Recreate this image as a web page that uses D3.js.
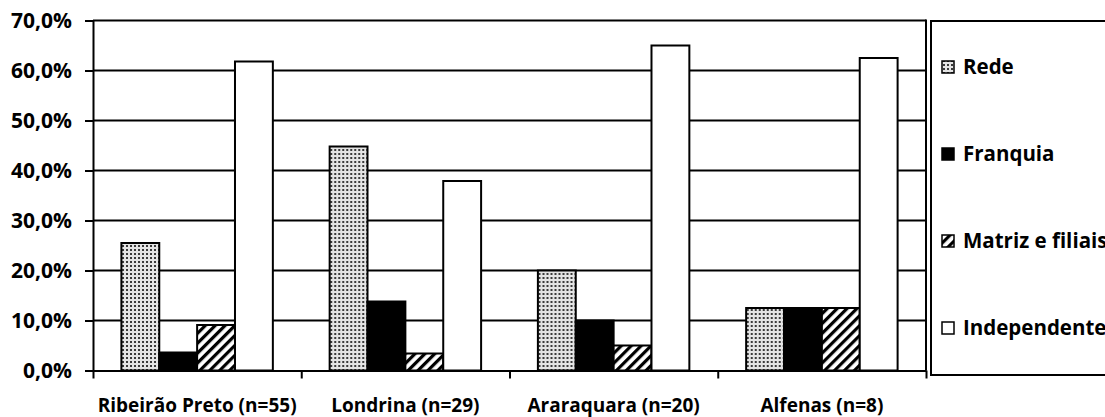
<!DOCTYPE html>
<html>
<head>
<meta charset="utf-8">
<script src="https://cdn.jsdelivr.net/npm/d3@7/dist/d3.min.js"></script>
<style>
  html, body { margin: 0; padding: 0; background: #fff; }
  svg { display: block; }
  text { font-family: "Open Sans", sans-serif; font-weight: bold; fill: #000; }
</style>
</head>
<body>
<svg id="chart" width="1105" height="417"></svg>
<script>
// Tipo de estabelecimento por cidade (% de respondentes)
const categories = ["Ribeirão Preto (n=55)", "Londrina (n=29)", "Araraquara (n=20)", "Alfenas (n=8)"];
const seriesNames = ["Rede", "Franquia", "Matriz e filiais", "Independente"];
const rede = [25.5, 44.8, 20.0, 12.5];
const franquia = [3.6, 13.8, 10.0, 12.5];
const matriz = [9.1, 3.4, 5.0, 12.5];
const independente = [61.8, 37.9, 65.0, 62.5];
const yTicks = [0, 10, 20, 30, 40, 50, 60, 70];

const seriesValues = [rede, franquia, matriz, independente];
const fills = ["url(#dots)", "#000", "url(#stripes)", "#fff"];

const svg = d3.select("#chart");
const plotLeft = 93, plotRight = 926, plotTop = 20.5, plotBottom = 370.5;

// patterns
const defs = svg.append("defs");
const dots = defs.append("pattern").attr("id", "dots")
  .attr("patternUnits", "userSpaceOnUse").attr("width", 4).attr("height", 4);
dots.append("rect").attr("width", 4).attr("height", 4).attr("fill", "#e4e4e4");
dots.append("rect").attr("x", 1).attr("y", 1).attr("width", 2).attr("height", 2).attr("fill", "#3a3a3a");

const stripes = defs.append("pattern").attr("id", "stripes")
  .attr("patternUnits", "userSpaceOnUse").attr("width", 7).attr("height", 7)
  .attr("patternTransform", "rotate(45)");
stripes.append("rect").attr("width", 7).attr("height", 7).attr("fill", "#fff");
stripes.append("rect").attr("width", 3.2).attr("height", 7).attr("fill", "#000");

// scales
const x0 = d3.scaleBand().domain(categories).range([plotLeft, plotRight]).paddingInner(0).paddingOuter(0);
const x1 = d3.scaleBand().domain(seriesNames).range([0, x0.bandwidth()])
  .paddingInner(0).paddingOuter(0.75);
const y = d3.scaleLinear().domain([0, 70]).range([plotBottom, plotTop]);

// gridlines
svg.append("g").selectAll("line").data(yTicks.filter(d => d > 0)).join("line")
  .attr("x1", plotLeft).attr("x2", plotRight)
  .attr("y1", d => y(d)).attr("y2", d => y(d))
  .attr("stroke", "#000").attr("stroke-width", 2);

// right border of plot area
svg.append("line").attr("x1", plotRight).attr("x2", plotRight)
  .attr("y1", y(70) - 1).attr("y2", plotBottom)
  .attr("stroke", "#000").attr("stroke-width", 2);

// bars
const groups = svg.append("g").selectAll("g").data(categories).join("g")
  .attr("transform", c => `translate(${x0(c)},0)`);
groups.selectAll("rect")
  .data((c, i) => seriesNames.map((s, j) => ({ s, j, v: seriesValues[j][i] })))
  .join("rect")
  .attr("x", d => x1(d.s))
  .attr("width", x1.bandwidth())
  .attr("y", d => y(d.v))
  .attr("height", d => y(0) - y(d.v))
  .attr("fill", d => fills[d.j])
  .attr("stroke", "#000").attr("stroke-width", 2);

// y axis
const yAxis = svg.append("g").attr("transform", `translate(${plotLeft},0)`)
  .call(d3.axisLeft(y).tickValues(yTicks)
    .tickFormat(d => d.toFixed(1).replace(".", ",") + "%")
    .tickSize(8).tickSizeOuter(0).tickPadding(13));
yAxis.select(".domain").attr("stroke", "#000").attr("stroke-width", 2);
yAxis.selectAll(".tick line").attr("stroke", "#000").attr("stroke-width", 2);
yAxis.selectAll(".tick text").style("font-size", "21px").attr("font-family", null);

// x axis: tick marks on category boundaries
const xEdges = d3.scaleLinear().domain([0, categories.length]).range([plotLeft, plotRight]);
const xTickAxis = svg.append("g").attr("transform", `translate(0,${plotBottom})`)
  .call(d3.axisBottom(xEdges).tickValues(d3.range(categories.length + 1))
    .tickFormat("").tickSize(8).tickSizeOuter(0));
xTickAxis.select(".domain").attr("stroke", "#000").attr("stroke-width", 2);
xTickAxis.selectAll(".tick line").attr("stroke", "#000").attr("stroke-width", 2);

const xLabels = svg.append("g").attr("transform", `translate(0,${plotBottom})`)
  .call(d3.axisBottom(x0).tickSize(0).tickPadding(28));
xLabels.select(".domain").remove();
xLabels.selectAll(".tick text").style("font-size", "19px").attr("font-family", null);

// legend
const legend = svg.append("g");
legend.append("rect").attr("x", 931).attr("y", 21).attr("width", 200).attr("height", 354)
  .attr("fill", "#fff").attr("stroke", "#000").attr("stroke-width", 2);
const legendY = d3.scalePoint().domain(seriesNames).range([67, 328]);
const li = legend.selectAll("g.item").data(seriesNames).join("g").attr("class", "item")
  .attr("transform", s => `translate(942,${legendY(s)})`);
li.append("rect").attr("x", 0).attr("y", -6).attr("width", 12).attr("height", 12)
  .attr("fill", (s, j) => fills[j]).attr("stroke", "#000").attr("stroke-width", 1.5);
li.append("text").attr("x", 21).attr("dy", "0.36em").style("font-size", "20.5px").text(s => s);
</script>
</body>
</html>
